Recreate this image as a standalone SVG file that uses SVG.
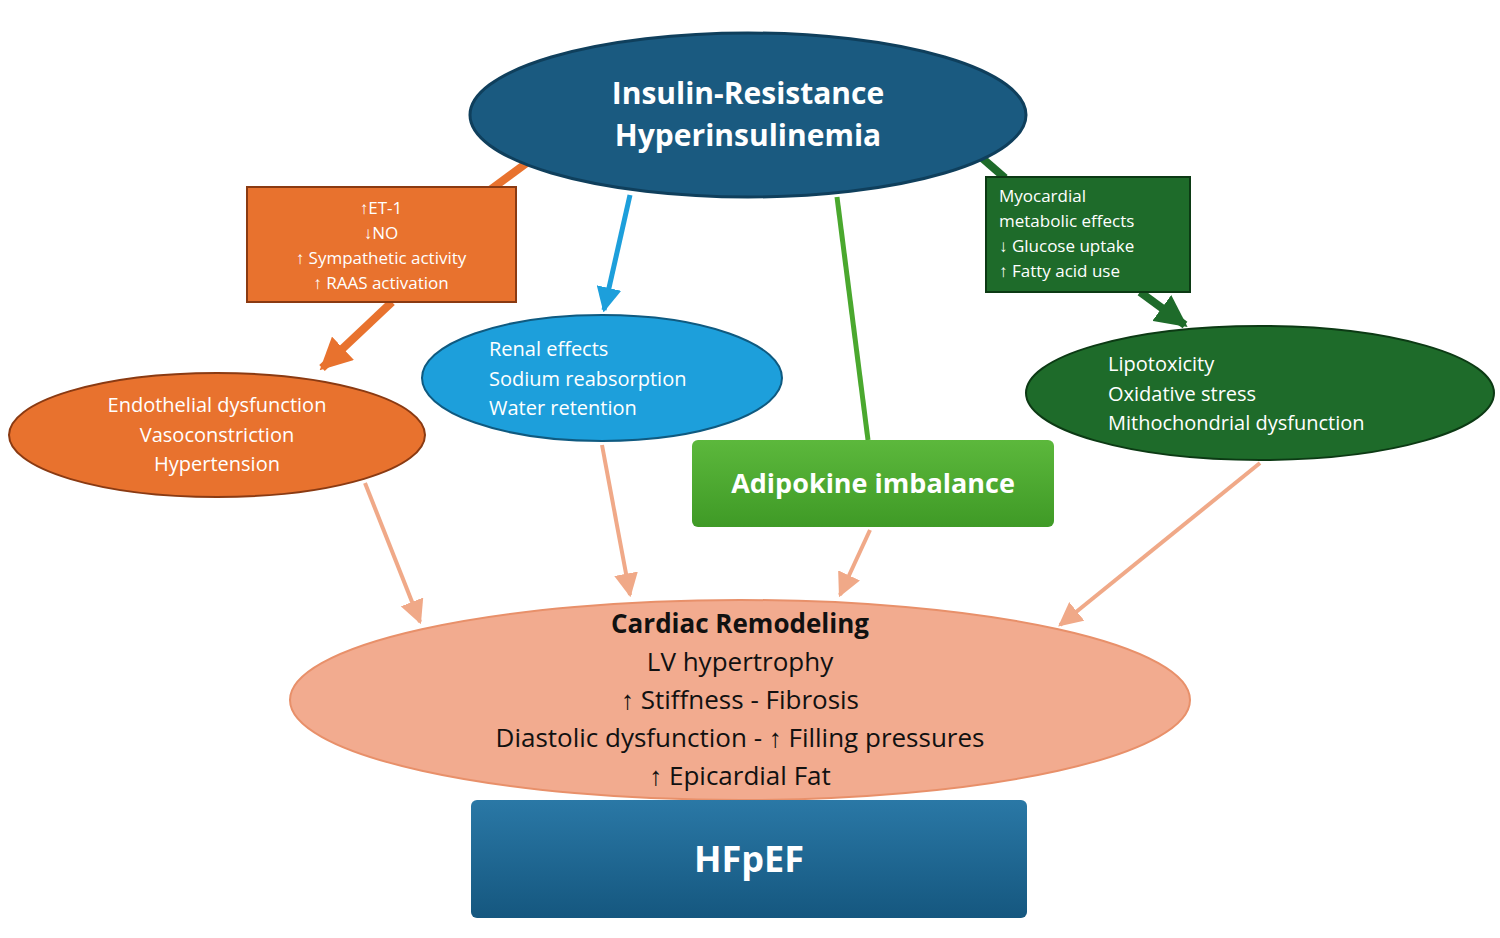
<svg xmlns="http://www.w3.org/2000/svg" width="1500" height="938" viewBox="0 0 1500 938">
<style>
text{font-family:"Open Sans","Liberation Sans",sans-serif;fill:#fff}
.w{font-size:20px}
.s{font-size:17px}
.b{font-weight:bold}
.k{fill:#111;font-size:26px}
</style>
<defs>
<marker id="mo" viewBox="0 0 10 10" refX="9" refY="5" markerWidth="4" markerHeight="4" orient="auto"><path d="M0,0L10,5L0,10z" fill="#e8722e"/></marker>
<marker id="mb" viewBox="0 0 10 10" refX="9" refY="5" markerWidth="5" markerHeight="5" orient="auto"><path d="M0,0L10,5L0,10z" fill="#1d9fdb"/></marker>
<marker id="mg" viewBox="0 0 10 10" refX="9" refY="5" markerWidth="4" markerHeight="4" orient="auto"><path d="M0,0L10,5L0,10z" fill="#1e6b2a"/></marker>
<marker id="ms" viewBox="0 0 10 10" refX="9" refY="5" markerWidth="6" markerHeight="6" orient="auto"><path d="M0,0L10,5L0,10z" fill="#f0a988"/></marker>
<linearGradient id="gb" x1="0" y1="0" x2="0" y2="1"><stop offset="0" stop-color="#2a78a6"/><stop offset="1" stop-color="#15577f"/></linearGradient>
<linearGradient id="gg" x1="0" y1="0" x2="0" y2="1"><stop offset="0" stop-color="#5cb83c"/><stop offset="1" stop-color="#3f9a26"/></linearGradient>
</defs>
<g id="connectors" fill="none">
<line x1="528" y1="162" x2="490" y2="190" stroke="#e8722e" stroke-width="8"/>
<line x1="392" y1="302" x2="322" y2="368" stroke="#e8722e" stroke-width="8" marker-end="url(#mo)"/>
<line x1="630" y1="195" x2="604" y2="310" stroke="#1d9fdb" stroke-width="5" marker-end="url(#mb)"/>
<line x1="837" y1="197" x2="868" y2="440" stroke="#4aa82e" stroke-width="5"/>
<line x1="982" y1="158" x2="1005" y2="178" stroke="#1e6b2a" stroke-width="8"/>
<line x1="1140" y1="292" x2="1185" y2="325" stroke="#1e6b2a" stroke-width="8" marker-end="url(#mg)"/>
<line x1="365" y1="483" x2="420" y2="622" stroke="#f0a988" stroke-width="4" marker-end="url(#ms)"/>
<line x1="602" y1="445" x2="630" y2="595" stroke="#f0a988" stroke-width="4" marker-end="url(#ms)"/>
<line x1="870" y1="530" x2="840" y2="595" stroke="#f0a988" stroke-width="4" marker-end="url(#ms)"/>
<line x1="1260" y1="463" x2="1060" y2="625" stroke="#f0a988" stroke-width="4" marker-end="url(#ms)"/>
</g>
<g id="top">
<ellipse cx="748" cy="115" rx="278" ry="82" fill="#1a5a80" stroke="#0f3f5c" stroke-width="3"/>
<text x="748" y="104" text-anchor="middle" class="b" font-size="30">Insulin-Resistance</text>
<text x="748" y="146" text-anchor="middle" class="b" font-size="30">Hyperinsulinemia</text>
</g>
<g id="orangebox">
<rect x="247" y="187" width="269" height="115" fill="#e8722e" stroke="#8a3a12" stroke-width="2"/>
<text x="381" y="214" text-anchor="middle" class="s">↑ET-1</text>
<text x="381" y="239" text-anchor="middle" class="s">↓NO</text>
<text x="381" y="264" text-anchor="middle" class="s">↑ Sympathetic activity</text>
<text x="381" y="289" text-anchor="middle" class="s">↑ RAAS activation</text>
</g>
<g id="orangeellipse">
<ellipse cx="217" cy="435" rx="208" ry="62" fill="#e8722e" stroke="#8a3a12" stroke-width="2"/>
<text x="217" y="412" text-anchor="middle" class="w">Endothelial dysfunction</text>
<text x="217" y="442" text-anchor="middle" class="w">Vasoconstriction</text>
<text x="217" y="471" text-anchor="middle" class="w">Hypertension</text>
</g>
<g id="renal">
<ellipse cx="602" cy="378" rx="180" ry="63" fill="#1d9fdb" stroke="#0f5a80" stroke-width="2"/>
<text x="489" y="356" class="w">Renal effects</text>
<text x="489" y="386" class="w">Sodium reabsorption</text>
<text x="489" y="415" class="w">Water retention</text>
</g>
<g id="adipokine">
<rect x="692" y="440" width="362" height="87" rx="6" fill="url(#gg)"/>
<text x="873" y="493" text-anchor="middle" class="b" font-size="27">Adipokine imbalance</text>
</g>
<g id="greenbox">
<rect x="986" y="177" width="204" height="115" fill="#1e6b2a" stroke="#0c3a14" stroke-width="2"/>
<text x="999" y="202" class="s">Myocardial</text>
<text x="999" y="227" class="s">metabolic effects</text>
<text x="999" y="252" class="s">↓ Glucose uptake</text>
<text x="999" y="277" class="s">↑ Fatty acid use</text>
</g>
<g id="lipo">
<ellipse cx="1260" cy="393" rx="234" ry="67" fill="#1e6b2a" stroke="#0c3a14" stroke-width="2"/>
<text x="1108" y="371" class="w">Lipotoxicity</text>
<text x="1108" y="401" class="w">Oxidative stress</text>
<text x="1108" y="430" class="w">Mithochondrial dysfunction</text>
</g>
<g id="remodeling">
<ellipse cx="740" cy="700" rx="450" ry="100" fill="#f2ab8f" stroke="#e8906a" stroke-width="2"/>
<text x="740" y="633" text-anchor="middle" class="k b">Cardiac Remodeling</text>
<text x="740" y="671" text-anchor="middle" class="k">LV hypertrophy</text>
<text x="740" y="709" text-anchor="middle" class="k">↑ Stiffness - Fibrosis</text>
<text x="740" y="747" text-anchor="middle" class="k">Diastolic dysfunction - ↑ Filling pressures</text>
<text x="740" y="785" text-anchor="middle" class="k">↑ Epicardial Fat</text>
</g>
<g id="hfpef">
<rect x="471" y="800" width="556" height="118" rx="6" fill="url(#gb)"/>
<text x="749" y="872" text-anchor="middle" class="b" font-size="36">HFpEF</text>
</g>
</svg>
